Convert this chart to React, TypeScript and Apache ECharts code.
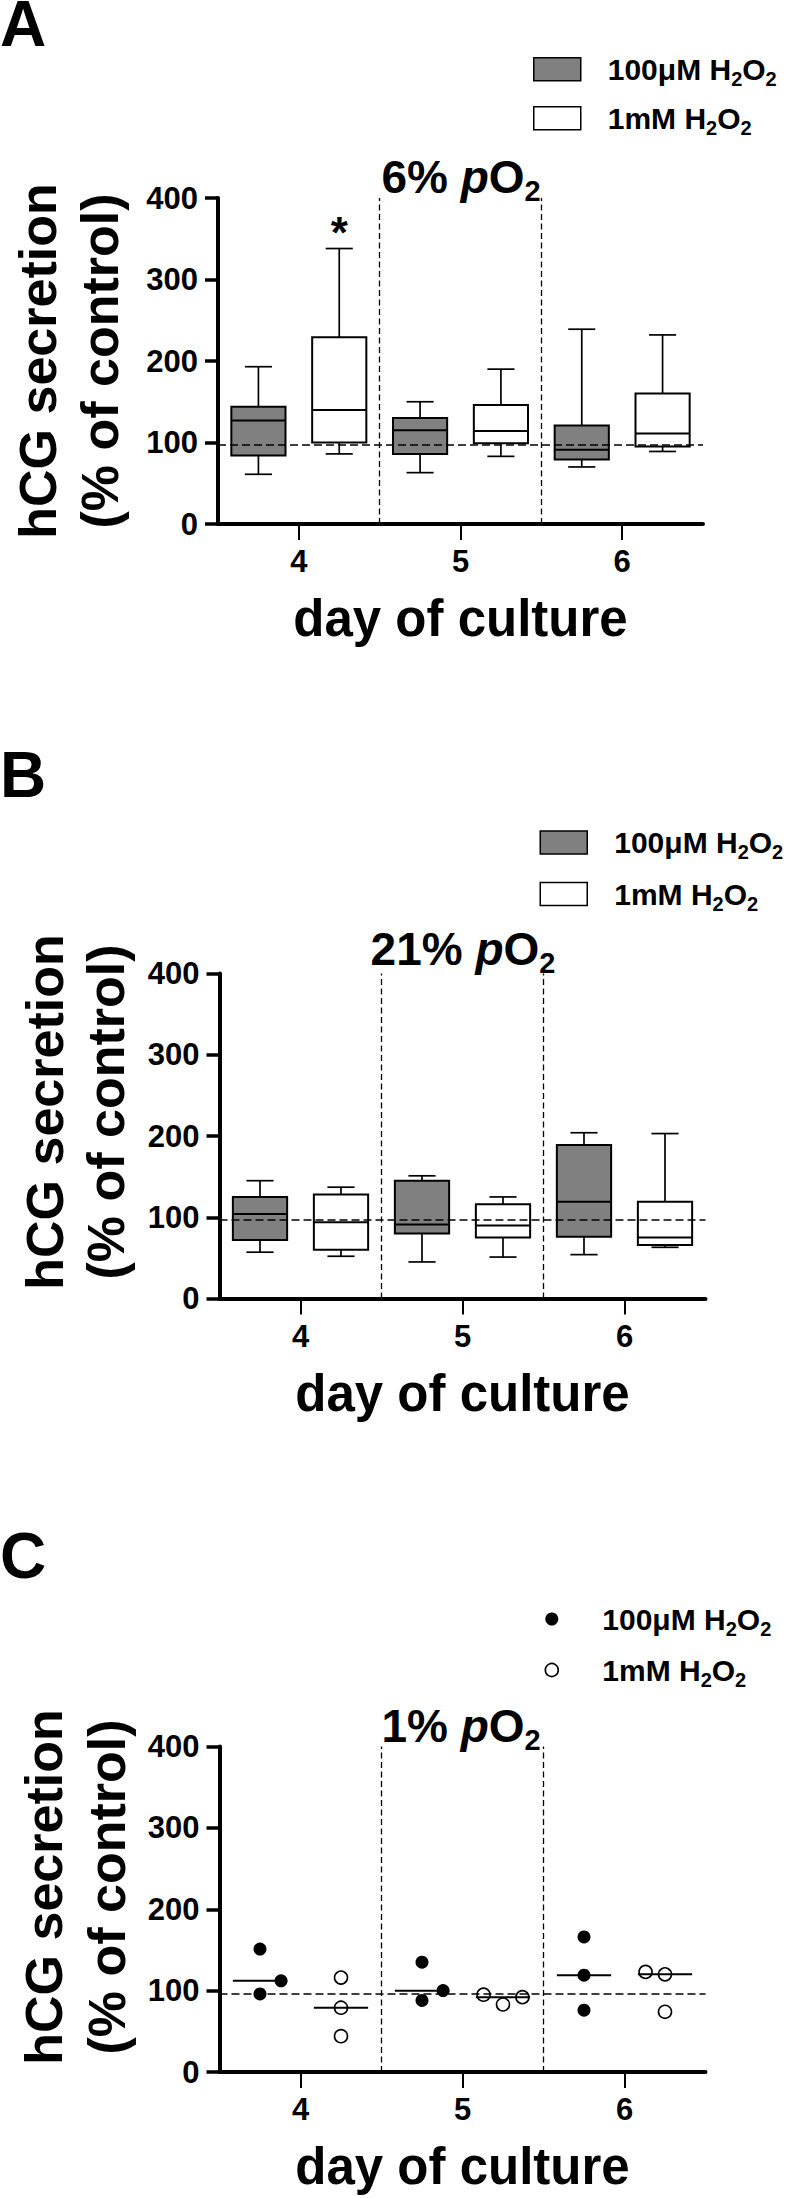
import React, { useEffect, useRef } from 'react';
import * as echarts from 'echarts';

// ---------------- data ----------------
const days = [4, 5, 6];
const seriesNames = ['100μM H2O2', '1mM H2O2'];
const groupOffsets = [-0.25, 0.25];
const dividers = [4.5, 5.5];
const yMin = 0;
const yMax = 400;
const yStep = 100;
const xMin = 3.5;
const xMax = 6.5;

// box plots: [min, Q1, median, Q3, max] for days 4, 5, 6
// Panel A: 6% pO2
const boxA100 = [[61, 84, 127, 144, 193], [63, 86, 115, 130, 150], [70, 79, 91, 121, 239]];
const boxA1mM = [[86, 100, 140, 229, 338], [83, 99, 114, 146, 190], [89, 95, 111, 160, 232]];
// Panel B: 21% pO2
const boxB100 = [[57, 72, 104, 125, 145], [45, 80, 91, 145, 151], [54, 76, 119, 189, 204]];
const boxB1mM = [[52, 60, 94, 128, 137], [51, 75, 90, 116, 125], [63, 66, 75, 119, 203]];
// Panel C: 1% pO2, individual values per day and their horizontal spread
const dotC100 = [[151, 112, 96], [135, 88, 100], [166, 119, 76]];
const dotC1mM = [[116, 79, 44], [95, 83, 92], [123, 120, 74]];
const spreadC100 = [[0, 0.13, 0], [0, 0, 0.13], [0, 0, 0]];
const spreadC1mM = [[0, 0, 0], [-0.12, 0, 0.12], [-0.12, 0, 0]];

const controlLevels = [97, 97.5, 96];
const oxygenLabels = ['6%', '21%', '1%'];
const panelLetters = ['A', 'B', 'C'];
const yTitle = ['hCG secretion', '(% of control)'];
const xTitle = 'day of culture';
// significance marks: panel, day index, group index
const significance = [{ panel: 0, day: 0, group: 1, text: '*' }];

// ---------------- layout ----------------
const FONT = '"Liberation Sans", Arial, Helvetica, sans-serif';
const BOX_W = 0.335;
const GRIDS = [
  { left: 218, top: 198, width: 485, height: 326 },
  { left: 219.5, top: 973.5, width: 486, height: 325 },
  { left: 219.5, top: 1746.5, width: 486, height: 325.5 },
];
const LETTER_Y = [24, 775.3, 1556];
const TITLE_POS = [[461, 177], [463, 949], [461, 1726]];
const YTITLE_POS = [
  { y: 361, x: [38, 100] },
  { y: 1112, x: [45, 106] },
  { y: 1887, x: [44, 107] },
];
const LEGEND_POS = [
  { left: 533, top: 49.8, gap: 10, h: 23 },
  { left: 539.5, top: 823, gap: 12.5, h: 23 },
  { left: 544.5, top: 1599.5, gap: 12, h: 13 },
];

const median = (a: number[]) => [...a].sort((p, q) => p - q)[Math.floor(a.length / 2)];

const renderBox = (fill: string) => (params: any, api: any) => {
  const x = api.value(0);
  const [cx, yLo] = api.coord([x, api.value(1)]);
  const yQ1 = api.coord([x, api.value(2)])[1];
  const yMed = api.coord([x, api.value(3)])[1];
  const yQ3 = api.coord([x, api.value(4)])[1];
  const yHi = api.coord([x, api.value(5)])[1];
  const w = api.size([BOX_W, 0])[0];
  const cap = w / 2;
  const st = { stroke: '#000', lineWidth: 1.7 };
  return {
    type: 'group',
    children: [
      { type: 'line', shape: { x1: cx, y1: yHi, x2: cx, y2: yQ3 }, style: st },
      { type: 'line', shape: { x1: cx - cap / 2, y1: yHi, x2: cx + cap / 2, y2: yHi }, style: st },
      { type: 'line', shape: { x1: cx, y1: yQ1, x2: cx, y2: yLo }, style: st },
      { type: 'line', shape: { x1: cx - cap / 2, y1: yLo, x2: cx + cap / 2, y2: yLo }, style: st },
      {
        type: 'rect',
        shape: { x: cx - w / 2, y: yQ3, width: w, height: yQ1 - yQ3 },
        style: { fill, stroke: '#000', lineWidth: 2 },
      },
      { type: 'line', shape: { x1: cx - w / 2, y1: yMed, x2: cx + w / 2, y2: yMed }, style: { stroke: '#000', lineWidth: 2 } },
    ],
  };
};

function boxSeries(panel: number, g: number, boxes: number[][], fill: string) {
  return {
    type: 'custom',
    name: seriesNames[g],
    xAxisIndex: panel,
    yAxisIndex: panel,
    z: 2,
    silent: true,
    itemStyle: { color: fill, borderColor: '#000' },
    encode: { x: 0, y: [1, 2, 3, 4, 5] },
    data: days.map((d, i) => [d + groupOffsets[g], ...boxes[i]]),
    renderItem: renderBox(fill),
  };
}

function dotSeries(panel: number, g: number, vals: number[][], spread: number[][], filled: boolean) {
  return {
    type: 'scatter',
    name: seriesNames[g],
    xAxisIndex: panel,
    yAxisIndex: panel,
    z: 6,
    silent: true,
    symbol: 'circle',
    symbolSize: 13,
    itemStyle: filled
      ? { color: '#000', opacity: 1 }
      : { color: 'rgba(0,0,0,0)', borderColor: '#000', borderWidth: 1.6, opacity: 1 },
    data: days.flatMap((d, i) => vals[i].map((v, j) => [d + groupOffsets[g] + spread[i][j], v])),
  };
}

function medianSeries(panel: number, g: number, vals: number[][]) {
  return {
    type: 'custom',
    name: 'median ' + g,
    xAxisIndex: panel,
    yAxisIndex: panel,
    z: 3,
    silent: true,
    data: days.map((d, i) => [d + groupOffsets[g], median(vals[i])]),
    renderItem: (params: any, api: any) => {
      const [cx, cy] = api.coord([api.value(0), api.value(1)]);
      const w = api.size([BOX_W, 0])[0];
      return {
        type: 'line',
        shape: { x1: cx - w / 2, y1: cy, x2: cx + w / 2, y2: cy },
        style: { stroke: '#000', lineWidth: 2 },
      };
    },
  };
}

function refSeries(panel: number) {
  return {
    type: 'line',
    name: 'reference ' + panel,
    xAxisIndex: panel,
    yAxisIndex: panel,
    data: [],
    silent: true,
    markLine: {
      silent: true,
      symbol: ['none', 'none'],
      label: { show: false },
      z: 5,
      lineStyle: { color: '#000', width: 1.3, type: [6, 3.5] },
      emphasis: { disabled: true },
      data: [
        { yAxis: controlLevels[panel], lineStyle: { color: '#000', width: 1.6, type: [8, 4] } },
        ...dividers.map((v) => ({ xAxis: v })),
      ],
    },
  };
}

const panelBoxes = [[boxA100, boxA1mM], [boxB100, boxB1mM]];

function sigSeries() {
  return {
    type: 'custom',
    name: 'significance',
    xAxisIndex: 0,
    yAxisIndex: 0,
    z: 6,
    silent: true,
    data: significance.map((s) => [
      days[s.day] + groupOffsets[s.group],
      panelBoxes[s.panel][s.group][s.day][4],
    ]),
    renderItem: (params: any, api: any) => {
      const [cx, cy] = api.coord([api.value(0), api.value(1)]);
      return {
        type: 'text',
        x: cx,
        y: cy - 16,
        style: {
          text: significance[params.dataIndex].text,
          fontSize: 44,
          fontWeight: 'bold',
          fontFamily: FONT,
          fill: '#000',
          align: 'center',
          verticalAlign: 'middle',
        },
      };
    },
  };
}

const legendRich = {
  sp: { width: 22, fontSize: 30, lineHeight: 30 },
  t: { fontSize: 30, fontWeight: 'bold', fontFamily: FONT, color: '#000', lineHeight: 30 },
  s: { fontSize: 20, fontWeight: 'bold', fontFamily: FONT, color: '#000', lineHeight: 30, padding: [19, 0, 0, 0] },
};
const legendFmt = (name: string) => {
  const pre = name.replace(' H2O2', '');
  return `{sp| }{t|${pre} H}{s|2}{t|O}{s|2}`;
};

const titleRich = {
  n: { fontSize: 46, fontWeight: 'bold', fontFamily: FONT, fill: '#000', lineHeight: 50 },
  i: { fontSize: 46, fontWeight: 'bold', fontStyle: 'italic', fontFamily: FONT, fill: '#000', lineHeight: 50 },
  s: { fontSize: 29, fontWeight: 'bold', fontFamily: FONT, fill: '#000', lineHeight: 50, padding: [28, 0, 0, 0] },
};

function buildOption() {
  const legendItems = (panel: number) =>
    panel < 2
      ? [
          { name: seriesNames[0], icon: 'rect', itemStyle: { color: '#808080', borderColor: '#000', borderWidth: 1.5 } },
          { name: seriesNames[1], icon: 'rect', itemStyle: { color: '#fff', borderColor: '#000', borderWidth: 1.5 } },
        ]
      : [
          { name: seriesNames[0], icon: 'circle', itemStyle: { color: '#000', borderWidth: 0 } },
          { name: seriesNames[1], icon: 'circle', itemStyle: { color: 'rgba(0,0,0,0)', borderColor: '#000', borderWidth: 1.6 } },
        ];

  const graphic: any[] = [];
  GRIDS.forEach((_, i) => {
    graphic.push({
      type: 'text',
      x: 0,
      y: LETTER_Y[i],
      style: { text: panelLetters[i], fontSize: 64, fontWeight: 'bold', fontFamily: FONT, fill: '#000', align: 'left', verticalAlign: 'middle' },
    });
    graphic.push({
      type: 'text',
      x: TITLE_POS[i][0],
      y: TITLE_POS[i][1],
      style: { text: `{n|${oxygenLabels[i]} }{i|p}{n|O}{s|2}`, align: 'center', verticalAlign: 'middle', rich: titleRich },
    });
    yTitle.forEach((t, k) => {
      graphic.push({
        type: 'text',
        x: YTITLE_POS[i].x[k],
        y: YTITLE_POS[i].y,
        rotation: Math.PI / 2,
        style: { text: t, fontSize: 52, fontWeight: 'bold', fontFamily: FONT, fill: '#000', align: 'center', verticalAlign: 'middle' },
      });
    });
  });

  return {
    animation: false,
    backgroundColor: '#fff',
    grid: GRIDS.map((g) => ({ ...g, containLabel: false, outerBoundsMode: 'none' })),
    xAxis: GRIDS.map((_, i) => ({
      type: 'value',
      gridIndex: i,
      min: xMin,
      max: xMax,
      name: xTitle,
      nameLocation: 'middle',
      nameGap: 69,
      nameMoveOverlap: false,
      nameTextStyle: { fontFamily: FONT, fontSize: 51, fontWeight: 'bold', color: '#000' },
      axisLine: { show: true, onZero: false, lineStyle: { color: '#000', width: 4 } },
      axisTick: { show: true, customValues: days, length: 16, lineStyle: { color: '#000', width: 2 } },
      axisLabel: { show: true, customValues: days, margin: 22, fontFamily: FONT, fontSize: 31, fontWeight: 'bold', color: '#000' },
      splitLine: { show: false },
    })),
    yAxis: GRIDS.map((_, i) => ({
      type: 'value',
      gridIndex: i,
      min: yMin,
      max: yMax,
      interval: yStep,
      axisLine: { show: true, onZero: false, lineStyle: { color: '#000', width: 4 } },
      axisTick: { show: true, length: 13, lineStyle: { color: '#000', width: 3.5 } },
      axisLabel: { show: true, margin: 20, fontFamily: FONT, fontSize: 31, fontWeight: 'bold', color: '#000' },
      splitLine: { show: false },
    })),
    legend: LEGEND_POS.map((p, i) => ({
      orient: 'vertical',
      left: p.left,
      top: p.top,
      itemGap: p.gap,
      itemWidth: 47,
      itemHeight: p.h,
      padding: 0,
      selectedMode: false,
      data: legendItems(i),
      formatter: legendFmt,
      textStyle: { fontFamily: FONT, fontSize: 30, fontWeight: 'bold', color: '#000', lineHeight: 30, rich: legendRich },
    })),
    graphic,
    series: [
      boxSeries(0, 0, boxA100, '#808080'),
      boxSeries(0, 1, boxA1mM, '#ffffff'),
      refSeries(0),
      sigSeries(),
      boxSeries(1, 0, boxB100, '#808080'),
      boxSeries(1, 1, boxB1mM, '#ffffff'),
      refSeries(1),
      medianSeries(2, 0, dotC100),
      medianSeries(2, 1, dotC1mM),
      refSeries(2),
      dotSeries(2, 0, dotC100, spreadC100, true),
      dotSeries(2, 1, dotC1mM, spreadC1mM, false),
    ],
  };
}

export default function App() {
  const ref = useRef<HTMLDivElement>(null);
  useEffect(() => {
    if (!ref.current) return;
    const chart = echarts.init(ref.current, null, { renderer: 'svg' });
    chart.setOption(buildOption() as any);
    return () => chart.dispose();
  }, []);
  return (
    <div
      ref={ref}
      style={{ position: 'absolute', left: 0, top: 0, width: 789, height: 2198, background: '#fff' }}
    />
  );
}
